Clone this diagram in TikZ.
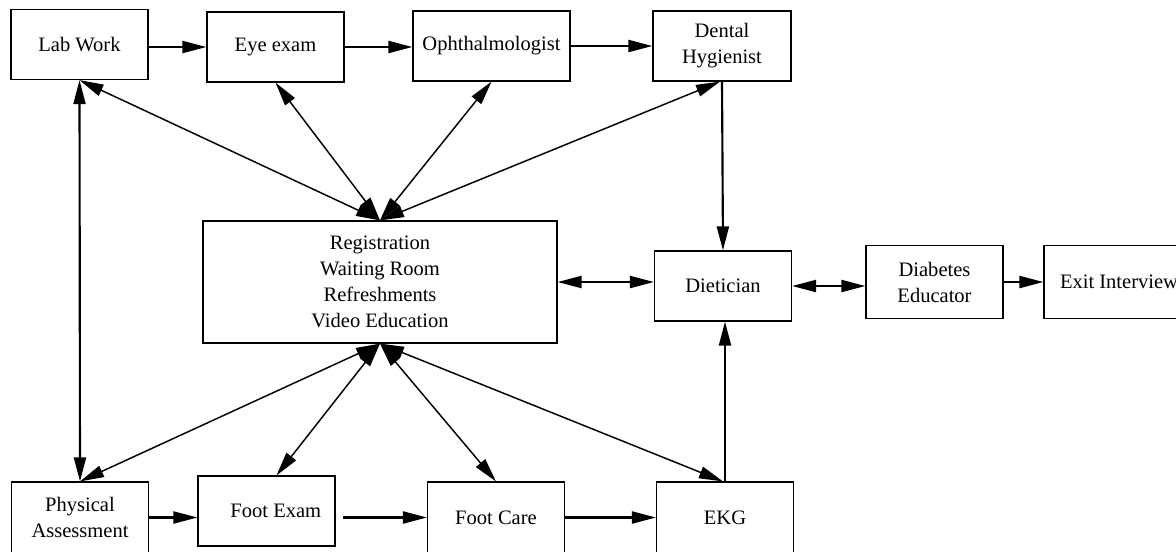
\documentclass[tikz,border=0pt]{standalone}
\usepackage{fontspec}
\setmainfont{Liberation Serif}
\usetikzlibrary{arrows.meta}

\begin{document}
\begin{tikzpicture}[x=0.75pt,y=0.75pt,yscale=-1,xscale=1,
  box/.style={draw, line width=0.9pt, minimum width=102.75pt, minimum height=52.5pt, inner sep=0pt, align=center, font=\fontsize{15.4}{19.5}\selectfont},
  flow/.style={line width=1.6pt, -{Triangle[length=18pt,width=9pt]}},
  flowboth/.style={line width=1.6pt, {Triangle[length=18pt,width=9pt]}-{Triangle[length=18pt,width=9pt]}},
  spoke/.style={line width=1.1pt, {Triangle[length=18pt,width=9pt]}-{Triangle[length=18pt,width=9pt]}}]
\useasboundingbox (0,0) rectangle (1176,551);

%Boxes, top row
\node [box] (lab) at (79.5,44.5) {Lab Work};
\node [box] (eye) at (275.5,47) {Eye exam};
\node [box, minimum width=117.75pt] (oph) at (491.5,46) {Ophthalmologist};
\node [box, minimum width=103.5pt] (dental) at (722,46) {Dental\\Hygienist};
%Boxes, middle row
\node [box, minimum width=265.5pt, minimum height=91.5pt] (hub) at (380,282) {Registration\\Waiting Room\\Refreshments\\Video Education};
\node [box] (dietician) at (723,286) {Dietician};
\node [box, minimum height=54.75pt] (diabetes) at (934.5,282) {Diabetes\\Educator};
\node [box, minimum width=112.5pt, minimum height=54.75pt] (exit) at (1119,282) {Exit Interview};
%Boxes, bottom row
\node [box, minimum height=53.25pt] (physical) at (80,517.5) {Physical\\Assessment};
\node [box] (footexam) at (266.5,511) {\hspace*{14pt}Foot Exam};
\node [box, minimum height=53.25pt] (footcare) at (496,517.5) {Foot Care};
\node [box, minimum height=53.25pt] (ekg) at (725,517.5) {EKG};

%Top row flow
\draw [flow] (lab.east |- eye.west) -- (eye.west);
\draw [flow] (eye.east) -- (eye.east -| oph.west);
\draw [flow] (oph.east) -- (oph.east -| dental.west);
\draw [flowboth] (lab.south) -- (physical.north);
\draw [flow] (dental.south) -- (dietician.north);

%Spokes from the hub
\draw [spoke] (hub.north) -- (lab.south);
\draw [spoke] (hub.north) -- (eye.south);
\draw [spoke] (hub.north) -- (oph.south);
\draw [spoke] (hub.north) -- ([xshift=-1.5pt]dental.south);
\draw [spoke] (hub.south) -- (physical.north);
\draw [spoke] (hub.south) -- ([xshift=7.5pt]footexam.north);
\draw [spoke] (hub.south) -- (footcare.north);
\draw [spoke] (hub.south) -- ([xshift=-1.5pt]ekg.north);

%Middle row flow
\draw [flowboth] (hub.east) -- (hub.east -| dietician.west);
\draw [flowboth] (dietician.east) -- (dietician.east -| diabetes.west);
\draw [flow] (diabetes.east) -- (exit.west);
\draw [flow] (ekg.north) -- (ekg.north |- dietician.south);

%Bottom row flow
\draw [flow] (physical.east) -- (physical.east -| footexam.west);
\draw [flow, shorten <=5.5pt] (footcare.west -| footexam.east) -- (footcare.west);
\draw [flow] (footcare.east) -- (footcare.east -| ekg.west);

\end{tikzpicture}
\end{document}
